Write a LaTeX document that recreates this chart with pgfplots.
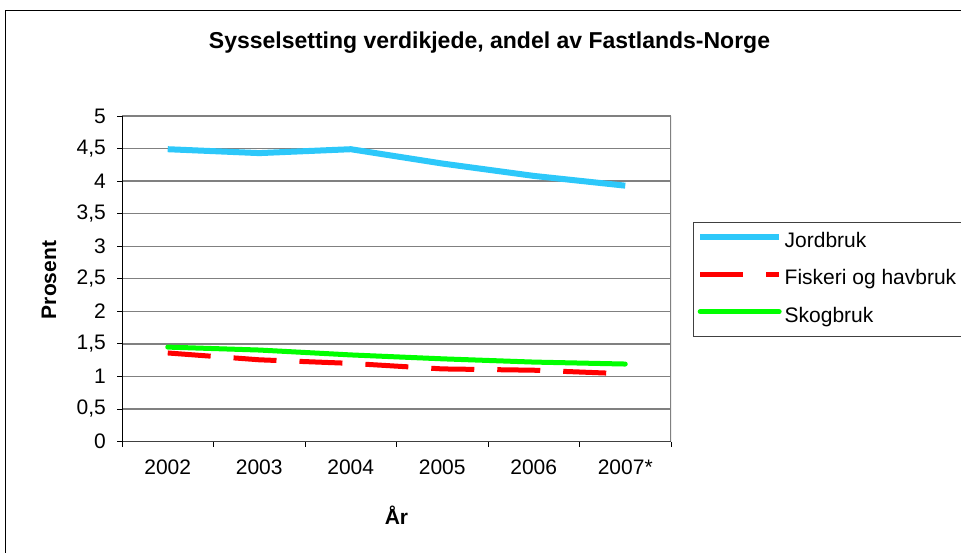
\documentclass[border=0pt]{standalone}
\usepackage{fontspec}
\setmainfont{Liberation Sans}
\usepackage{pgfplots}
\pgfplotsset{compat=1.18}
\definecolor{jord}{RGB}{45,200,250}
\definecolor{fisk}{RGB}{255,0,0}
\definecolor{skog}{RGB}{0,255,0}
\definecolor{gridg}{RGB}{128,128,128}
\definecolor{axg}{RGB}{64,64,64}
\begin{document}
\begin{tikzpicture}[x=1pt,y=1pt]
\clip (0,0) rectangle (961,552);
\fill[white] (0,0) rectangle (961,552);
\draw[black, line width=1pt] (5.5,-20) rectangle (1000,541);
\node[font=\fontsize{23}{27}\selectfont\bfseries, anchor=base] at (489.5,503) {Sysselsetting verdikjede, andel av Fastlands-Norge};
\begin{axis}[
  at={(122pt,110.5pt)}, anchor=south west,
  width=549pt, height=325.5pt, scale only axis,
  xmin=-0.5, xmax=5.5, ymin=0, ymax=5,
  xtick={-0.5,0.5,1.5,2.5,3.5,4.5,5.5}, xticklabels={},
  extra x ticks={0,1,2,3,4,5},
  extra x tick labels={2002,2003,2004,2005,2006,2007*},
  extra x tick style={major tick length=0pt, grid=none},
  ytick={0,0.5,...,5},
  /pgf/number format/use comma,
  /pgf/number format/assume math mode=true,
  yticklabel={\pgfmathprintnumber{\tick}},
  ymajorgrids,
  grid style={gridg, line width=1.4pt},
  tick align=outside, major tick length=5pt,
  xtick pos=bottom, ytick pos=left,
  tick style={black, line width=0.8pt},
  axis line style={draw=none},
  ticklabel style={font=\fontsize{21}{25}\selectfont},
  yticklabel style={inner sep=0pt, xshift=-11pt},
  xticklabel style={inner sep=0pt, yshift=-18.5pt},
  xlabel={\bfseries År}, ylabel={\bfseries Prosent},
  label style={font=\fontsize{21}{25}\selectfont},
  xlabel style={at={(axis description cs:0.5,-0.226)}, anchor=center},
  ylabel style={at={(axis description cs:-0.133,0.496)}, anchor=center, rotate=0},
  legend style={at={(axis description cs:1.0395,0.675)}, anchor=north west,
    draw=axg, line width=1pt, font=\fontsize{21}{25}\selectfont,
    row sep=16pt, inner xsep=4pt, inner ysep=9pt, column sep=1.5pt,
    nodes={inner sep=1pt, text height=15pt, text depth=4.5pt}},
  legend cell align=left,
  legend image code/.code={\draw[#1] (0pt,5.25pt) -- (79pt,5.25pt);},
]
\draw[gridg, line width=2pt] (axis cs:-0.5,5) -- (axis cs:5.5,5) -- (axis cs:5.5,0);
\draw[axg, line width=2pt] (axis cs:-0.5,0) -- (axis cs:5.5,0);
\draw[black, line width=1pt] (axis cs:-0.5,0) -- (axis cs:-0.5,5);
\addplot[jord, line width=6pt] coordinates {(0,4.49) (1,4.43) (2,4.49) (3,4.27) (4,4.08) (5,3.93)};
\addlegendentry{\makebox[190pt][l]{Jordbruk}}
\addplot[fisk, line width=5pt, dash pattern=on 43pt off 23pt] coordinates {(0,1.36) (1,1.255) (2,1.20) (3,1.115) (4,1.095) (5,1.04)};
\addlegendentry{\makebox[190pt][l]{Fiskeri og havbruk}}
\addplot[skog, line width=5pt, line cap=round] coordinates {(0,1.45) (1,1.405) (2,1.33) (3,1.27) (4,1.22) (5,1.19)};
\addlegendentry{\makebox[190pt][l]{Skogbruk}}
\end{axis}
\end{tikzpicture}
\end{document}
